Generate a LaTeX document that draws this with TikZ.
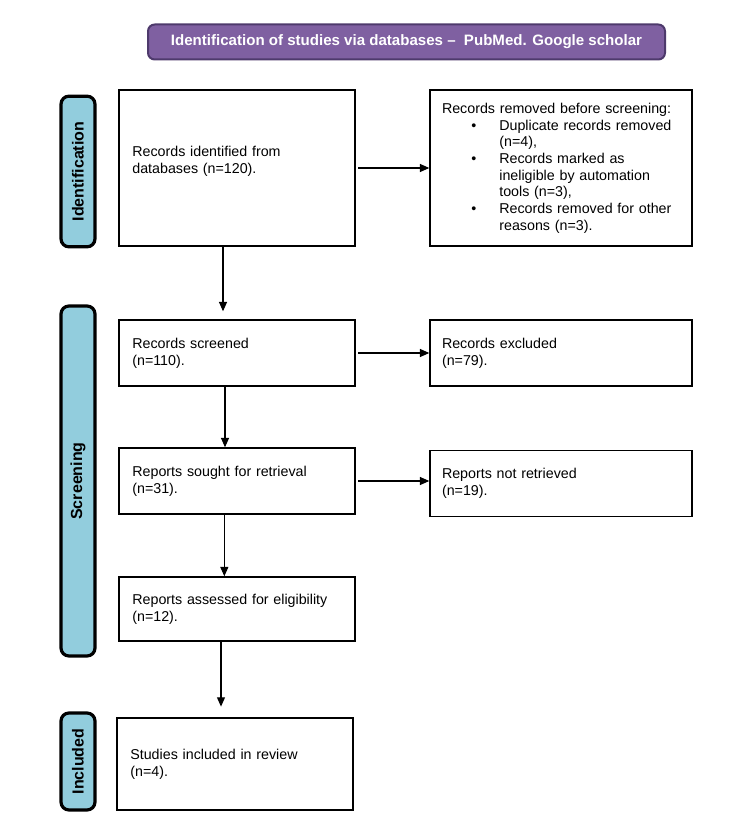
\documentclass[tikz,border=0pt]{standalone}
\usepackage{fontspec}
\setmainfont{Liberation Sans}
\usetikzlibrary{arrows.meta, positioning}

\definecolor{titlepurple}{RGB}{127,96,161}
\definecolor{titleedge}{RGB}{78,58,108}
\definecolor{phaseblue}{RGB}{146,205,221}

\newcommand{\bitem}[1]{\hspace*{22pt}\makebox[21pt][l]{\textbullet}#1}
\newcommand{\bcont}[1]{\hspace*{43pt}#1}

\tikzset{
	pbox/.style={draw, line width=1.1pt, minimum width=177pt, text width=157pt, inner xsep=10pt, align=left, font=\fontsize{10.7}{12.5}\selectfont},
	rbox/.style={pbox, minimum width=196.5pt, text width=178.5pt, inner xsep=9pt},
	phase/.style={draw, fill=phaseblue, line width=2.4pt, rounded corners=6pt, minimum height=25.5pt, rotate=90, font=\fontsize{12}{14}\selectfont\bfseries},
	arr/.style={-{Triangle[length=7pt,width=6pt]}, line width=0.8pt},
}

\begin{document}
\begin{tikzpicture}[x=0.75pt, y=-0.75pt]
		\useasboundingbox (0,0) rectangle (750,834);
		% header
		\node [draw=titleedge, line width=1.5pt, fill=titlepurple, rounded corners=5pt, minimum width=387.75pt, minimum height=26.25pt, text=white, font=\fontsize{11.3}{13}\selectfont\bfseries] at (406.5,42) (title) {Identification of studies via databases --\ \ PubMed. Google scholar};
		% phases
		\node [phase, minimum width=113pt] at (78,171.5) (idphase) {Identification};
		\node [phase, minimum width=262.5pt] at (78,481) (scphase) {Screening};
		\node [phase, minimum width=72.75pt] at (78,761.5) (inphase) {Included};
		% left column
		\node [pbox, minimum height=117pt] at (237,168) (ident) {Records identified from\\databases (n=120).\\~};
		\node [pbox, minimum height=49.5pt] at (237,353) (screen) {Records screened\\(n=110).};
		\node [pbox, minimum height=49.5pt] at (237,481) (sought) {Reports sought for retrieval\\(n=31).};
		\node [pbox, minimum height=48pt] at (237,609) (assess) {Reports assessed for eligibility\\(n=12).};
		\node [pbox, minimum height=69pt] at (235,764) (incl) {Studies included in review\\(n=4).};
		% right column
		\node [rbox, minimum height=117pt] at (561,168) (removed) {Records removed before screening:\\
			\bitem{Duplicate records removed}\\
			\bcont{(n=4),}\\
			\bitem{Records marked as}\\
			\bcont{ineligible by automation}\\
			\bcont{tools (n=3),}\\
			\bitem{Records removed for other}\\
			\bcont{reasons (n=3).}};
		\node [rbox, minimum height=49.5pt] at (561,353) (excl) {Records excluded\\(n=79).};
		\node [rbox, minimum height=49.5pt] at (561,483.5) (notret) {Reports not retrieved\\(n=19).};
		% arrows
		\draw [arr, shorten <=2pt] (ident) -- (removed);
		\draw [arr, shorten <=2pt] (screen) -- (excl);
		\draw [arr, shorten <=2pt] (sought.east) -- (sought.east -| notret.west);
		\draw [arr, shorten >=6pt] ([xshift=-10.5pt]ident.south) -- ([xshift=-10.5pt]screen.north);
		\draw [arr] ([xshift=-9pt]screen.south) -- ([xshift=-9pt]sought.north);
		\draw [arr] ([xshift=-9.5pt]sought.south) -- ([xshift=-9.5pt]assess.north);
		\draw [arr, shorten >=8pt] ([xshift=-12pt]assess.south) -- ([xshift=-12pt]assess.south |- incl.north);
	\end{tikzpicture}
\end{document}
